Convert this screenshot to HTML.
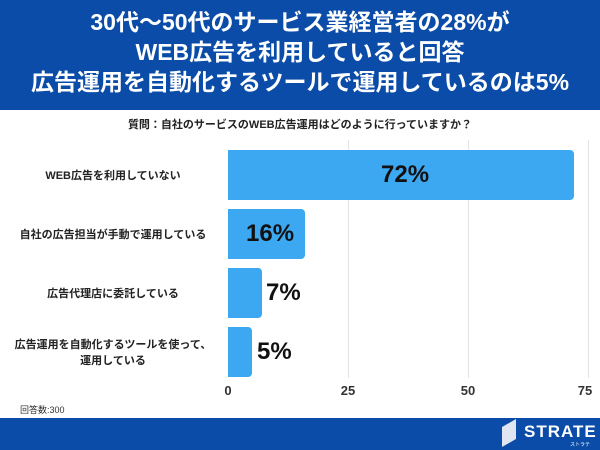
<!DOCTYPE html>
<html><head><meta charset="utf-8"><style>
body{margin:0;width:600px;height:450px;background:#fff;position:relative;overflow:hidden;font-family:"Liberation Sans","Noto Sans CJK JP",sans-serif}
.hd{position:absolute;left:0;top:0;width:600px;height:110px;background:#0a4ca8;color:#fff;font-weight:bold;font-size:23px;text-align:center;line-height:30px;padding-top:7px;box-sizing:border-box}
.ft{position:absolute;left:0;top:418px;width:600px;height:32px;background:#0a4ca8}
.q{position:absolute;top:116px;left:0;width:600px;text-align:center;font-size:11px;font-weight:bold;color:#222}
.g{position:absolute;top:140px;height:238px;width:1px;background:#e4e4e4}
.bar{position:absolute;left:228px;height:50px;background:#3ca8f2;border-radius:0 4px 4px 0}
.v{position:absolute;font-weight:bold;font-size:24px;color:#111}
.l{position:absolute;left:8px;width:210px;font-size:11px;font-weight:bold;color:#222;text-align:center;line-height:16px}
.t{position:absolute;top:383px;font-size:13px;font-weight:bold;color:#333;width:40px;margin-left:-20px;text-align:center}
</style></head><body>
<div class="hd">30代〜50代のサービス業経営者の28%が<br>WEB広告を利用していると回答<br>広告運用を自動化するツールで運用しているのは5%</div>
<div class="q">質問：自社のサービスのWEB広告運用はどのように行っていますか？</div>
<div class="g" style="left:348px"></div><div class="g" style="left:468px"></div><div class="g" style="left:588px"></div>
<div class="bar" style="top:150px;width:346px"></div>
<div class="bar" style="top:209px;width:77px"></div>
<div class="bar" style="top:268px;width:34px"></div>
<div class="bar" style="top:327px;width:24px"></div>
<div class="v" style="left:381px;top:161px">72%</div>
<div class="v" style="left:246px;top:220px">16%</div>
<div class="v" style="left:266px;top:279px">7%</div>
<div class="v" style="left:257px;top:338px">5%</div>
<div class="l" style="top:168px">WEB広告を利用していない</div>
<div class="l" style="top:227px">自社の広告担当が手動で運用している</div>
<div class="l" style="top:286px">広告代理店に委託している</div>
<div class="l" style="top:337px">広告運用を自動化するツールを使って、<br>運用している</div>
<div class="t" style="left:228px">0</div><div class="t" style="left:348px">25</div><div class="t" style="left:468px">50</div><div class="t" style="left:585px">75</div>
<div style="position:absolute;left:20px;top:403px;font-size:9px;color:#333">回答数:300</div>
<div class="ft"><div style="position:absolute;left:502px;top:5px;width:14px;height:20px;background:#dfe6f2;transform:skewY(-30deg)"></div><div style="position:absolute;left:524px;top:4px;color:#fff;font-weight:bold;font-size:17px;letter-spacing:1px">STRATE</div><div style="position:absolute;left:570px;top:23px;color:#fff;font-size:5px">ストラテ</div></div>
</body></html>
